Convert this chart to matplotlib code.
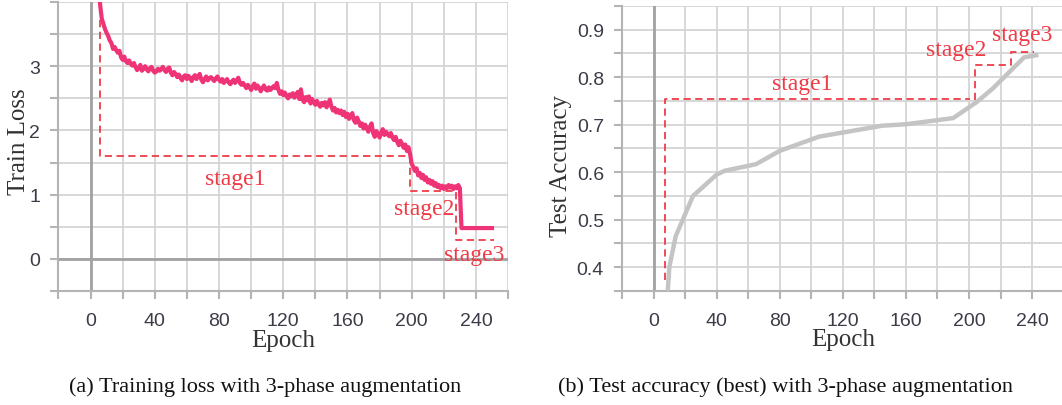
import matplotlib as mpl
mpl.use('Agg')
import matplotlib.pyplot as plt
from matplotlib.ticker import MultipleLocator
import numpy as np

plt.rcParams['font.family'] = 'Liberation Serif'

# ---- data ----
loss_epochs = np.arange(5, 251)
train_loss = [
    4.30, 3.95, 3.74, 3.66, 3.58, 3.52, 3.47, 3.40, 3.36, 3.27,   # 5-14
    3.30, 3.25, 3.21, 3.24, 3.14, 3.10, 3.15, 3.08, 3.05, 3.09,   # 15-24
    3.04, 3.01, 3.05, 2.99, 2.94, 2.97, 3.02, 2.93, 2.96, 3.00,   # 25-34
    2.95, 2.92, 2.97, 2.99, 2.93, 2.90, 2.92, 2.96, 2.93, 2.95,   # 35-44
    2.99, 2.94, 2.91, 2.96, 2.98, 2.90, 2.86, 2.91, 2.88, 2.83,   # 45-54
    2.87, 2.82, 2.78, 2.84, 2.86, 2.80, 2.85, 2.81, 2.77, 2.83,   # 55-64
    2.86, 2.80, 2.84, 2.88, 2.79, 2.75, 2.80, 2.84, 2.78, 2.81,   # 65-74
    2.83, 2.80, 2.77, 2.81, 2.84, 2.79, 2.76, 2.80, 2.74, 2.77,   # 75-84
    2.80, 2.75, 2.72, 2.76, 2.79, 2.74, 2.78, 2.82, 2.74, 2.71,   # 85-94
    2.74, 2.70, 2.66, 2.71, 2.67, 2.63, 2.69, 2.73, 2.65, 2.70,   # 95-104
    2.66, 2.61, 2.66, 2.70, 2.64, 2.62, 2.67, 2.63, 2.66, 2.69,   # 105-114
    2.66, 2.74, 2.63, 2.57, 2.61, 2.55, 2.59, 2.54, 2.50, 2.56,   # 115-124
    2.53, 2.58, 2.51, 2.55, 2.60, 2.49, 2.64, 2.48, 2.44, 2.52,   # 125-134
    2.47, 2.53, 2.42, 2.49, 2.44, 2.40, 2.46, 2.41, 2.37, 2.43,   # 135-144
    2.39, 2.44, 2.36, 2.42, 2.48, 2.37, 2.31, 2.35, 2.28, 2.32,   # 145-154
    2.27, 2.31, 2.24, 2.29, 2.21, 2.26, 2.18, 2.23, 2.27, 2.16,   # 155-164
    2.12, 2.20, 2.14, 2.07, 2.11, 2.03, 2.09, 2.04, 1.98, 2.06,   # 165-174
    2.11, 1.96, 1.90, 1.99, 1.94, 1.89, 1.97, 2.02, 1.93, 1.98,   # 175-184
    1.94, 1.91, 1.96, 1.89, 1.85, 1.90, 1.82, 1.77, 1.84, 1.79,   # 185-194
    1.73, 1.78, 1.68, 1.74, 1.63, 1.48, 1.43, 1.37, 1.41, 1.30,   # 195-204
    1.34, 1.26, 1.31, 1.23, 1.27, 1.19, 1.23, 1.17, 1.21, 1.14,   # 205-214
    1.18, 1.12, 1.15, 1.10, 1.14, 1.09, 1.13, 1.10, 1.15, 1.11,   # 215-224
    1.14, 1.09, 1.13, 1.10, 1.15, 1.10, 0.48, 0.48, 0.48, 0.48,   # 225-234
    0.48, 0.48, 0.48, 0.48, 0.48, 0.48, 0.48, 0.48, 0.48, 0.48,   # 235-244
    0.48, 0.48, 0.48, 0.48, 0.48, 0.48,                           # 245-250
]

acc_epochs = [9, 10, 14, 25, 40, 45, 65, 80, 105, 145, 160, 190, 205, 215, 235, 244]
test_acc = [0.35, 0.40, 0.465, 0.55, 0.595, 0.603, 0.617, 0.645, 0.675,
            0.698, 0.701, 0.714, 0.748, 0.776, 0.842, 0.847]

# stage boundaries (dashed staircases)
loss_stage_x = [6, 6, 199, 199, 227.7, 227.7, 251]
loss_stage_y = [3.72, 1.6, 1.6, 1.05, 1.05, 0.29, 0.29]
acc_stage1_x = [7, 7, 200.6]
acc_stage1_y = [0.374, 0.755, 0.755]
acc_stage23_x = [203.8, 203.8, 226.7, 226.7, 241.3]
acc_stage23_y = [0.752, 0.825, 0.825, 0.854, 0.854]

loss_labels = [('stage1', 90, 1.25), ('stage2', 208, 0.78), ('stage3', 238.6, 0.07)]
acc_labels = [('stage1', 94.4, 0.787), ('stage2', 191.6, 0.858), ('stage3', 234, 0.891)]

red = '#ef3b46'
grid_c = '#d4d4d4'
tick_c = '#3c3c48'

fig = plt.figure(figsize=(10.62, 4.06), dpi=100)
ax1 = fig.add_axes([0.055, 0.2808, 0.4234, 0.7118])
ax2 = fig.add_axes([0.5857, 0.2808, 0.4158, 0.702])


def style(ax):
    ax.xaxis.set_major_locator(MultipleLocator(40))
    ax.xaxis.set_minor_locator(MultipleLocator(20))
    ax.grid(True, which='both', color=grid_c, lw=1.3, zorder=0)
    ax.set_axisbelow(True)
    for s in ['top', 'right']:
        ax.spines[s].set_visible(False)
    for s in ['left', 'bottom']:
        ax.spines[s].set_color('#b4b4b4')
        ax.spines[s].set_linewidth(1.5)
    ax.tick_params(which='both', color='#b4b4b4', width=1.5, length=6,
                   labelcolor=tick_c)
    ax.tick_params(axis='x', which='major', pad=9)
    ax.tick_params(axis='y', which='major', pad=7)
    for lab in ax.get_xticklabels() + ax.get_yticklabels():
        lab.set_fontfamily('Liberation Sans')
        lab.set_fontsize(14)
    ax.set_xlim(-20, 260)


# ---- (a) training loss ----
ax1.set_ylim(-0.5, 4)
ax1.yaxis.set_major_locator(MultipleLocator(1))
ax1.yaxis.set_minor_locator(MultipleLocator(0.5))
ax1.set_yticks([0, 1, 2, 3])
style(ax1)
ax1.axvline(0, color='#a2a2a2', lw=2, zorder=1)
ax1.axhline(0, color='#a2a2a2', lw=2, zorder=1)
ax1.plot(loss_stage_x, loss_stage_y, color=red, lw=1.3, ls=(0, (4, 2.5)), zorder=2)
ax1.plot(loss_epochs, train_loss, color='#ee3377', lw=3.0, zorder=3)
for t, x, y in loss_labels:
    ax1.text(x, y, t, color=red, fontsize=17, ha='center', va='center', zorder=4)
ax1.set_xlabel('Epoch', fontsize=18, color='#333333', va='center')
ax1.xaxis.set_label_coords(0.5, -0.17)
ax1.set_ylabel('Train Loss', fontsize=18, color='#333333', va='center')
ax1.yaxis.set_label_coords(-0.088, 0.52)

# ---- (b) test accuracy ----
ax2.set_ylim(0.35, 0.95)
ax2.yaxis.set_major_locator(MultipleLocator(0.1))
ax2.yaxis.set_minor_locator(MultipleLocator(0.05))
ax2.set_yticks([0.4, 0.5, 0.6, 0.7, 0.8, 0.9])
style(ax2)
ax2.axvline(0, color='#a2a2a2', lw=2, zorder=1)
ax2.plot(acc_stage1_x, acc_stage1_y, color=red, lw=1.3, ls=(0, (4, 2.5)), zorder=2)
ax2.plot(acc_stage23_x, acc_stage23_y, color=red, lw=1.3, ls=(0, (4, 2.5)), zorder=2)
ax2.plot(acc_epochs, test_acc, color='#c4c4c4', lw=3.2, zorder=3,
         solid_capstyle='butt')
for t, x, y in acc_labels:
    ax2.text(x, y, t, color=red, fontsize=17, ha='center', va='center', zorder=4)
ax2.set_xlabel('Epoch', fontsize=18, color='#333333', va='center')
ax2.xaxis.set_label_coords(0.5, -0.17)
ax2.set_ylabel('Test Accuracy', fontsize=18, color='#333333', va='center')
ax2.yaxis.set_label_coords(-0.138, 0.443)

fig.text(0.250, 0.047, '(a) Training loss with 3-phase augmentation',
         ha='center', va='center', fontsize=16, color='#111111')
fig.text(0.740, 0.047, '(b) Test accuracy (best) with 3-phase augmentation',
         ha='center', va='center', fontsize=16, color='#111111')

fig.savefig('out.png', dpi=100)
